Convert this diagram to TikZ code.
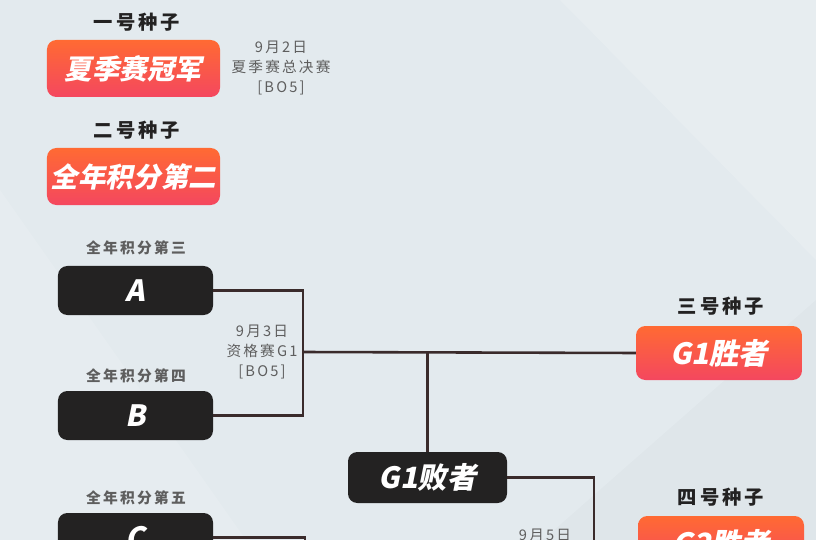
\documentclass[tikz,border=0pt]{standalone}
\usepackage{fontspec}
\setmainfont{Noto Sans CJK SC}
\newfontfamily\spaced[LetterSpace=15]{Noto Sans CJK SC}
\newfontfamily\slanted[FakeSlant=0.2]{Noto Sans CJK SC}
\usepackage{tikz}
\usetikzlibrary{positioning}
\definecolor{bg}{HTML}{E3EAEE}
\definecolor{hot}{HTML}{FF6A33}
\definecolor{pink}{HTML}{F4475F}
\definecolor{ink}{HTML}{232222}
\definecolor{wire}{HTML}{3A2B2B}
\definecolor{note}{HTML}{5E5E5E}
\tikzset{
    every picture/.style={x=0.03cm,y=-0.03cm},
    seedbox/.style={rounded corners=8pt,top color=hot,bottom color=pink,text=white,
      minimum width=5.19cm,minimum height=1.71cm,font=\slanted\bfseries\fontsize{23.5}{25}\selectfont},
    teambox/.style={rounded corners=8pt,fill=ink,text=white,
      minimum width=4.65cm,minimum height=1.47cm,font=\slanted\bfseries\fontsize{25}{27}\selectfont},
    seedlabel/.style={text=ink,font=\spaced\bfseries\fontsize{16.5}{18}\selectfont},
    rank/.style={text=note,font=\spaced\bfseries\fontsize{12.6}{14}\selectfont},
    info/.style={text=note,align=center,font=\spaced\fontsize{12.5}{16.8}\selectfont},
    bracket/.style={draw=wire,line width=2.2pt},
}
\begin{document}
\begin{tikzpicture}
\useasboundingbox (0,0) rectangle (816,540);
\clip (0,0) rectangle (816,540);
\fill[bg] (0,0) rectangle (816,540);
\fill[white,opacity=0.12] (0,190) -- (260,560) -- (0,560) -- cycle;
\fill[white,opacity=0.15] (560,0) -- (816,0) -- (816,260) -- cycle;
\fill[black,opacity=0.015] (520,560) -- (816,300) -- (816,560) -- cycle;

\node[seedlabel] (l1) at (137,22) {一号种子};
\node[seedbox] (s1) at (133.5,68.5) {夏季赛冠军};
\node[info] (i1) at (281,68) {9月2日\\夏季赛总决赛\\{[}BO5{]}};
\node[seedlabel] (l2) at (137,130) {二号种子};
\node[seedbox] (s2) at (133.5,176.5) {全年积分第二};

\node[rank] (r3) at (136,248) {全年积分第三};
\node[teambox] (a) at (135.5,290.5) {A};
\node[rank] (r4) at (136,376) {全年积分第四};
\node[teambox] (b) at (135.5,415.5) {B};
\node[rank] (r5) at (136,498) {全年积分第五};
\node[teambox] (c) at (135.5,537.5) {C};
\node[info] (i2) at (262,352) {9月3日\\资格赛G1\\{[}BO5{]}};

\node[seedlabel] (l3) at (721,306) {三号种子};
\node[seedbox,minimum width=4.98cm,minimum height=1.62cm,font=\slanted\bfseries\fontsize{25}{27}\selectfont] (w1) at (719,353) {G1胜者};
\node[teambox,minimum width=4.77cm,minimum height=1.53cm] (lo1) at (427.5,477.5) {G1败者};
\node[info] (i3) at (545,545) {9月5日\\资格赛G2};
\node[seedlabel] (l4) at (721,497) {四号种子};
\node[seedbox,minimum width=4.98cm,minimum height=1.62cm,font=\slanted\bfseries\fontsize{25}{27}\selectfont] (w2) at (721,543) {G2胜者};

\coordinate (j1) at (303,352);
\coordinate (j2) at (594,600);
\coordinate (j3) at (305,600);
\draw[bracket] (a.east) -| (j1) |- (b.east);
\draw[bracket] (j1) -- (w1.west);
\draw[bracket] (lo1.north) -- (lo1.north |- j1);
\draw[bracket] (lo1.east) -| (j2);
\draw[bracket] (c.east) -| (j3);
\end{tikzpicture}
\end{document}
